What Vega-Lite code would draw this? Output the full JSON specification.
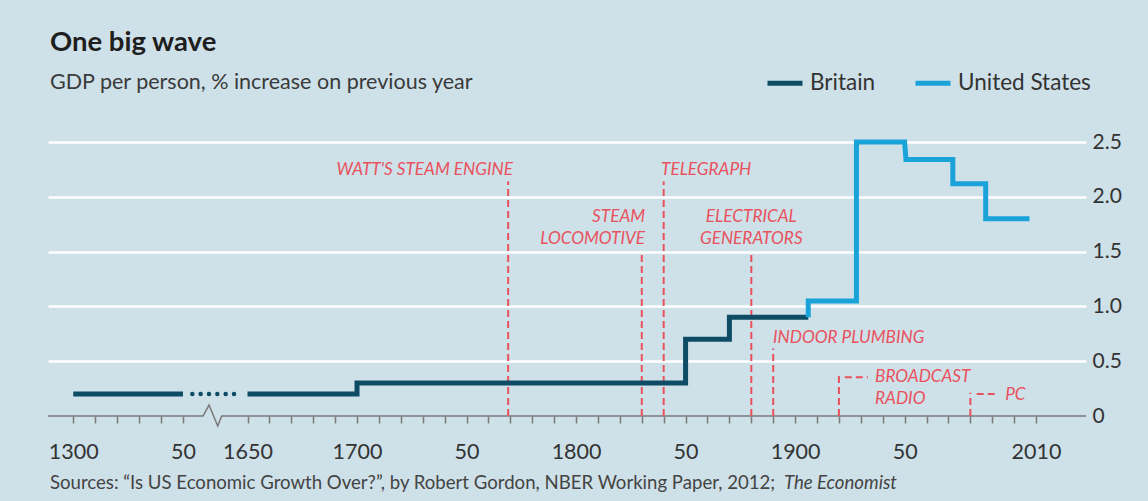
{
  "$schema": "https://vega.github.io/schema/vega-lite/v6.json",
  "width": 1038,
  "height": 274,
  "autosize": {"type": "none"},
  "padding": {"left": 48, "top": 142, "right": 62, "bottom": 85},
  "background": "#cee0e8",
  "config": {"view": {"stroke": null}, "font": "Lato"},
  "title": {
    "text": "One big wave",
    "subtitle": "GDP per person, % increase on previous year",
    "anchor": "start",
    "frame": "group",
    "font": "Lato",
    "fontSize": 27.5,
    "fontWeight": "bold",
    "color": "#1e1e1e",
    "subtitleFont": "Lato",
    "subtitleFontSize": 21.5,
    "subtitleColor": "#3a3a3a",
    "subtitlePadding": 15,
    "offset": -30,
    "dx": 2
  },
  "datasets": {
    "axisline": [
      {"year": 1288.5, "value": 0},
      {"year": 1443, "value": 0},
      {"year": 1471, "value": 0.1},
      {"year": 1511.6, "value": -0.091},
      {"year": 1530, "value": 0},
      {"year": 2032.8, "value": 0}
    ],
    "lines": [
      {"country": "Britain", "seg": "a", "i": 0, "year": 1300, "value": 0.2},
      {"country": "Britain", "seg": "a", "i": 1, "year": 1350, "value": 0.2},
      {"country": "Britain", "seg": "b", "i": 2, "year": 1650, "value": 0.2},
      {"country": "Britain", "seg": "b", "i": 3, "year": 1700, "value": 0.2},
      {"country": "Britain", "seg": "b", "i": 4, "year": 1700, "value": 0.3},
      {"country": "Britain", "seg": "b", "i": 5, "year": 1850, "value": 0.3},
      {"country": "Britain", "seg": "b", "i": 6, "year": 1850, "value": 0.7},
      {"country": "Britain", "seg": "b", "i": 7, "year": 1870, "value": 0.7},
      {"country": "Britain", "seg": "b", "i": 8, "year": 1870, "value": 0.9},
      {"country": "Britain", "seg": "b", "i": 9, "year": 1906, "value": 0.9},
      {"country": "United States", "seg": "c", "i": 10, "year": 1906, "value": 0.9},
      {"country": "United States", "seg": "c", "i": 11, "year": 1906, "value": 1.05},
      {"country": "United States", "seg": "c", "i": 12, "year": 1928, "value": 1.05},
      {"country": "United States", "seg": "c", "i": 13, "year": 1928, "value": 2.5},
      {"country": "United States", "seg": "c", "i": 14, "year": 1950, "value": 2.5},
      {"country": "United States", "seg": "c", "i": 15, "year": 1950.6, "value": 2.34},
      {"country": "United States", "seg": "c", "i": 16, "year": 1972, "value": 2.34},
      {"country": "United States", "seg": "c", "i": 17, "year": 1972, "value": 2.12},
      {"country": "United States", "seg": "c", "i": 18, "year": 1987, "value": 2.12},
      {"country": "United States", "seg": "c", "i": 19, "year": 1987, "value": 1.8},
      {"country": "United States", "seg": "c", "i": 20, "year": 2007, "value": 1.8}
    ],
    "dotted": [
      {"year": 1393.3, "value": 0.2},
      {"year": 1588, "value": 0.2}
    ],
    "events": [
      {"event": "Watt's steam engine", "year": 1769, "value": 0, "top": 2.14},
      {"event": "Steam locomotive", "year": 1830, "value": 0, "top": 1.5},
      {"event": "Telegraph", "year": 1840, "value": 0, "top": 2.14},
      {"event": "Electrical generators", "year": 1880, "value": 0, "top": 1.5},
      {"event": "Indoor plumbing", "year": 1890, "value": 0, "top": 0.617},
      {"event": "Broadcast radio", "year": 1920, "value": 0, "top": 0.365},
      {"event": "PC", "year": 1980, "value": 0, "top": 0.213}
    ],
    "connectors": [
      {"event": "Broadcast radio", "year": 1922.7, "year2": 1933.2, "value": 0.353},
      {"event": "PC", "year": 1982.9, "year2": 1992.8, "value": 0.2}
    ],
    "notes": [
      {"text": "WATT'S STEAM ENGINE", "align": "right", "year": 1771.2, "value": 2.2},
      {"text": "STEAM", "align": "right", "year": 1831.5, "value": 1.773},
      {"text": "LOCOMOTIVE", "align": "right", "year": 1831.5, "value": 1.569},
      {"text": "ELECTRICAL", "align": "center", "year": 1880, "value": 1.773},
      {"text": "GENERATORS", "align": "center", "year": 1880, "value": 1.569},
      {"text": "TELEGRAPH", "align": "left", "year": 1838.8, "value": 2.2},
      {"text": "INDOOR PLUMBING", "align": "left", "year": 1889.9, "value": 0.666},
      {"text": "BROADCAST", "align": "left", "year": 1936.5, "value": 0.313},
      {"text": "RADIO", "align": "left", "year": 1936.5, "value": 0.109},
      {"text": "PC", "align": "left", "year": 1995.9, "value": 0.146}
    ],
    "source": [
      {"text": "Sources: “Is US Economic Growth Over?”, by Robert Gordon, NBER Working Paper, 2012;", "year": 1289.4, "value": -0.67}
    ],
    "sourceItalic": [
      {"text": "The Economist", "year": 1894.9, "value": -0.67}
    ]
  },
  "encoding": {
    "x": {
      "field": "year",
      "type": "quantitative",
      "scale": {"domain": [1288.5, 1350, 1650, 2032.8], "range": [0, 135, 199.5, 1038], "zero": false, "nice": false},
      "axis": {
        "title": null,
        "values": [1300, 1310, 1320, 1330, 1340, 1350, 1650, 1660, 1670, 1680, 1690, 1700, 1710, 1720, 1730, 1740, 1750, 1760, 1770, 1780, 1790, 1800, 1810, 1820, 1830, 1840, 1850, 1860, 1870, 1880, 1890, 1900, 1910, 1920, 1930, 1940, 1950, 1960, 1970, 1980, 1990, 2000, 2010],
        "format": "d",
        "domain": false,
        "grid": false,
        "ticks": true,
        "tickSize": 7,
        "tickColor": "#7a7a7a",
        "tickWidth": 1.5,
        "labelExpr": "(datum.value == 1300 || datum.value == 1650 || datum.value == 1700 || datum.value == 1800 || datum.value == 1900 || datum.value == 2010) ? datum.label : ((datum.value == 1350 || datum.value == 1750 || datum.value == 1850 || datum.value == 1950) ? '50' : '')",
        "labelFont": "Lato",
        "labelFontSize": 21.5,
        "labelColor": "#333333",
        "labelBaseline": "alphabetic",
        "labelPadding": 35,
        "labelOverlap": false,
        "labelBound": false,
        "labelFlush": false
      }
    },
    "y": {
      "field": "value",
      "type": "quantitative",
      "scale": {"domain": [0, 2.5], "zero": false, "nice": false},
      "axis": {
        "orient": "right",
        "title": null,
        "values": [0, 0.5, 1, 1.5, 2, 2.5],
        "domain": false,
        "ticks": false,
        "grid": true,
        "gridColor": "#ffffff",
        "gridWidth": 2.5,
        "gridOpacity": {"condition": {"test": "datum.value === 0", "value": 0}, "value": 1},
        "labelExpr": "datum.value === 0 ? '0' : format(datum.value, '.1f')",
        "labelFont": "Lato",
        "labelFontSize": 21,
        "labelColor": "#333333",
        "labelPadding": 6,
        "labelAlign": "left"
      }
    }
  },
  "layer": [
    {
      "data": {"name": "axisline"},
      "mark": {"type": "line", "color": "#7a7a7a", "strokeWidth": 1.5, "clip": false}
    },
    {
      "data": {"name": "events"},
      "mark": {"type": "rule", "color": "#e9525d", "strokeWidth": 2, "strokeDash": [7, 4], "clip": false},
      "encoding": {"y2": {"field": "top"}}
    },
    {
      "data": {"name": "connectors"},
      "mark": {"type": "rule", "color": "#e9525d", "strokeWidth": 2, "strokeDash": [7, 4], "clip": false},
      "encoding": {"x2": {"field": "year2"}}
    },
    {
      "data": {"name": "dotted"},
      "mark": {"type": "line", "color": "#0e4c66", "strokeWidth": 4.5, "strokeCap": "round", "strokeDash": [0.01, 8.33], "clip": false}
    },
    {
      "data": {"name": "lines"},
      "mark": {"type": "line", "strokeWidth": 5, "strokeJoin": "miter", "clip": false},
      "encoding": {
        "color": {
          "field": "country",
          "type": "nominal",
          "scale": {"domain": ["Britain", "United States"], "range": ["#0e4c66", "#1aa3d9"]},
          "legend": {
            "orient": "none",
            "legendX": 717,
            "legendY": -79,
            "direction": "horizontal",
            "title": null,
            "symbolType": "stroke",
            "symbolSize": 1225,
            "symbolStrokeWidth": 5,
            "labelFont": "Lato",
            "labelFontSize": 22.5,
            "labelColor": "#333333",
            "columnPadding": 29,
            "labelOffset": 5,
            "padding": 0
          }
        },
        "detail": {"field": "seg"},
        "order": {"field": "i", "type": "quantitative"}
      }
    },
    {
      "data": {"name": "notes"},
      "transform": [{"filter": "datum.align === 'right'"}],
      "mark": {"type": "text", "align": "right", "baseline": "alphabetic", "font": "Lato", "fontStyle": "italic", "fontSize": 17.2, "color": "#e9525d", "clip": false},
      "encoding": {"text": {"field": "text"}}
    },
    {
      "data": {"name": "notes"},
      "transform": [{"filter": "datum.align === 'center'"}],
      "mark": {"type": "text", "align": "center", "baseline": "alphabetic", "font": "Lato", "fontStyle": "italic", "fontSize": 17.2, "color": "#e9525d", "clip": false},
      "encoding": {"text": {"field": "text"}}
    },
    {
      "data": {"name": "notes"},
      "transform": [{"filter": "datum.align === 'left'"}],
      "mark": {"type": "text", "align": "left", "baseline": "alphabetic", "font": "Lato", "fontStyle": "italic", "fontSize": 17.2, "color": "#e9525d", "clip": false},
      "encoding": {"text": {"field": "text"}}
    },
    {
      "data": {"name": "source"},
      "mark": {"type": "text", "align": "left", "baseline": "alphabetic", "font": "Lato", "fontSize": 18.6, "color": "#444444", "clip": false},
      "encoding": {"text": {"field": "text"}}
    },
    {
      "data": {"name": "sourceItalic"},
      "mark": {"type": "text", "align": "left", "baseline": "alphabetic", "font": "Lato", "fontStyle": "italic", "fontSize": 18.6, "color": "#444444", "clip": false},
      "encoding": {"text": {"field": "text"}}
    }
  ]
}
